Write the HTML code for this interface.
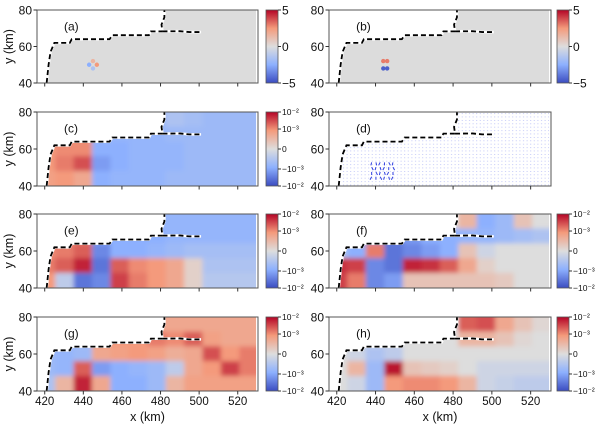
<!DOCTYPE html>
<html><head><meta charset="utf-8"><style>
html,body{margin:0;padding:0;background:#fff}
svg{display:block;font-family:"Liberation Sans",sans-serif}
</style></head><body>
<svg id="fig" width="600" height="426" viewBox="0 0 600 426" xmlns="http://www.w3.org/2000/svg">
<defs>
<linearGradient id="cw" x1="0" y1="1" x2="0" y2="0">
<stop offset="0" stop-color="#3b4cc0"/><stop offset="0.25" stop-color="#8db0fe"/><stop offset="0.5" stop-color="#dddddd"/><stop offset="0.75" stop-color="#f49a7b"/><stop offset="1" stop-color="#b40426"/>
</linearGradient>
<pattern id="dots" width="3.6" height="3.4" patternUnits="userSpaceOnUse"><rect x="1" y="1" width="1" height="0.7" fill="#aab2f4"/></pattern>
<filter id="blur" x="-5%" y="-10%" width="110%" height="120%"><feGaussianBlur stdDeviation="2.5"/></filter>
</defs>
</svg>
<script>
// ---- data ----
const xTicks=[420,440,460,480,500,520];
const yTicks=[40,60,80];
const coast=[[421,40],[422,50],[423,57],[425,62],[433,62],[434,64],[453.6,64],[455,66.2],[474,66.2],[475,68.3],[481,68.3],[480.5,72],[482,76],[482,80]];
const shelf=[[481,68.3],[490,68.4],[495,67.9],[501,67.9]];
const gridCols=12, gridRows=5;
const fieldC=[[-.4,-.4,-.4,-.4,-.4,-.4,-.4,-.3,-.35,-.4,-.4,-.4],[.5,.5,.5,-.4,-.45,-.45,-.45,-.4,-.4,-.4,-.4,-.4],[.5,.55,.55,-.5,-.5,-.45,-.45,-.45,-.4,-.4,-.4,-.4],[.5,.6,.75,-.6,-.5,-.45,-.45,-.45,-.4,-.4,-.4,-.4],[.45,.5,.4,-.5,-.45,-.45,-.45,-.4,-.4,-.4,-.4,-.4]];
const fieldE=[[-.45,-.45,-.45,-.45,-.45,-.45,-.45,-.45,-.45,-.45,-.45,-.45],[.5,.5,.5,-.5,-.5,-.5,-.5,-.45,-.45,-.45,-.45,-.45],[.55,.6,.7,-.7,-.5,-.5,-.45,-.4,-.35,-.35,-.35,-.35],[.6,.7,.9,-.8,.7,.55,.5,.4,.1,-.3,-.3,-.3],[.5,-.2,-.8,-.7,.8,.6,.5,.4,.1,-.25,-.25,-.25]];
const fieldF=[[0,0,0,0,0,0,0,.3,-.5,-.4,.2,0],[-.2,-.3,-.6,-.7,-.6,-.5,-.5,-.45,-.45,-.4,-.35,-.3],[-.3,-.5,.6,-.8,-.7,-.6,-.5,.2,-.1,0,0,0],[.85,.8,-.7,-.8,.9,.85,.7,.4,.1,0,0,0],[.8,.6,-.7,-.6,.2,.2,.2,.2,.2,.15,0,0]];
const fieldG=[[.4,.4,.4,.4,.4,.4,.4,.4,.4,.4,.4,.4],[-.3,-.3,-.3,.5,.5,.5,.6,.55,.7,.45,.4,.4],[-.4,-.45,-.4,.4,.45,.5,.45,.35,.4,.75,.5,.6],[-.4,-.45,.7,-.6,-.5,-.45,-.4,-.2,.4,.5,.8,.6],[-.3,.3,.9,.4,-.5,-.5,-.4,.3,.45,.45,.45,.45]];
const fieldH=[[0,0,0,0,0,0,0,.7,.75,.4,.2,.05],[0,0,0,0,0,0,0,.3,.3,.2,.05,0],[0,-.1,-.3,-.2,0,0,0,0,0,0,0,0],[0,.3,-.4,.95,.2,.15,.1,0,-.1,-.1,-.1,-.1],[0,-.1,-.4,.5,.55,.55,.5,.3,-.1,-.15,-.2,-.2]];
const dotsA=[[443,50,-0.5],[447,50,0.5],[445,52,0.3],[445,48,-0.3]];
const dotsB=[[444,52,0.6],[446,52,0.6],[444,48,-0.9],[446,48,-0.9]];
const cbLin=["5","0","\u22125"];
const cbLog=["10\u207b\u00b2","10\u207b\u00b3","0","\u221210\u207b\u00b3","\u221210\u207b\u00b2"];
const cbLogPos=[0,0.23,0.5,0.77,1];
// ---- layout ----
const NS="http://www.w3.org/2000/svg";
const svg=document.getElementById('fig');
const X0=416,X1=530.5,Y0=40,Y1=80;
const cols=[{l:37,r:258,cb:266},{l:329,r:551,cb:557}];
const rows=[{t:10,b:83},{t:112,b:186},{t:214,b:288},{t:317,b:391}];
function el(tag,attrs,parent){const e=document.createElementNS(NS,tag);for(const k in attrs)e.setAttribute(k,attrs[k]);(parent||svg).appendChild(e);return e;}
const stops=[[0x3b,0x4c,0xc0],[0x8d,0xb0,0xfe],[0xdd,0xdd,0xdd],[0xf4,0x9a,0x7b],[0xb4,0x04,0x26]];
function cw(v){let t=(Math.max(-1,Math.min(1,v))+1)/2*4;let i=Math.min(3,Math.floor(t));let f=t-i;const a=stops[i],b=stops[i+1];return 'rgb('+a.map((c,k)=>Math.round(c+(b[k]-c)*f)).join(',')+')';}
function panel(ci,ri,label,kind,data,cbKind){
  const c=cols[ci],r=rows[ri];
  const sx=k=>c.l+(k-X0)/(X1-X0)*(c.r-c.l);
  const sy=k=>r.b-(k-Y0)/(Y1-Y0)*(r.b-r.t);
  const g=el('g',{});
  
  
  const cid='clip'+label;
  const cp=el('clipPath',{id:cid},g);
  const poly=coast.map(p=>sx(p[0])+','+sy(p[1])).concat([sx(529.5)+','+sy(80),sx(529.5)+','+sy(40)]).join(' ');
  el('polygon',{points:poly},cp);
  const fg=el('g',{'clip-path':'url(#'+cid+')'},g);
  if(kind==='grid'){
    const bg=el('g',{filter:'url(#blur)'},fg);
    const dx=(X1-X0)/gridCols,dy=(Y1-Y0)/gridRows;
    data.forEach((row,i)=>row.forEach((v,j)=>{
      let x=sx(X0+j*dx)-0.3, y=sy(Y1-i*dy)-0.3;
      let w=(sx(X0+dx)-sx(X0))+0.6, h=(sy(Y0)-sy(Y0+dy))+0.6;
      if(j===0){x-=6;w+=6;} if(j===gridCols-1){w+=6;}
      if(i===0){y-=6;h+=6;} if(i===gridRows-1){h+=6;}
      const rc=el('rect',{x:x,y:y,width:w,height:h,fill:cw(v)},bg);
      
      
    }));
  } else if(kind==='gray'){
    el('rect',{x:c.l,y:r.t,width:c.r-c.l,height:r.b-r.t,fill:'#dcdcdc'},fg);
    data.forEach(d=>{const ci2=el('circle',{cx:sx(d[0]),cy:sy(d[1]),r:2.2,fill:cw(d[2])},fg);
      
      });
  } else {
    el('rect',{x:c.l,y:r.t,width:c.r-c.l,height:r.b-r.t,fill:'url(#dots)'},fg);
    for(let i=0;i<24;i++){const px=sx(438+(i%6)*2.2),py=sy(45+Math.floor(i/6)*2.6);
      el('line',{x1:px,y1:py,x2:px+((i*7)%5-2)*0.8,y2:py+3,stroke:'#3040e0','stroke-width':1},fg);}
  }
  const cl=coast.map(p=>sx(p[0])+','+sy(p[1])).join(' ');
  const sl=shelf.map(p=>sx(p[0])+','+sy(p[1])).join(' ');
  [cl,sl].forEach(pts=>{
    el('polyline',{points:pts,fill:'none',stroke:'#fff','stroke-width':2.6},g);
    const d=el('polyline',{points:pts,fill:'none',stroke:'#000','stroke-width':1.8,'stroke-dasharray':'5,3'},g);
    
    
  });
  const fr=el('rect',{x:c.l,y:r.t,width:c.r-c.l,height:r.b-r.t,fill:'none',stroke:'#555','stroke-width':1},g);
  
  
  const lt=el('text',{x:sx(430),y:sy(70)+2,'font-size':12,fill:'#111'},g);lt.textContent='('+label+')';
  
  
  xTicks.forEach(t=>{el('line',{x1:sx(t),x2:sx(t),y1:r.b,y2:r.b+3.5,stroke:'#333'},g);
    if(ri===3){const tx=el('text',{x:sx(t),y:r.b+14,'font-size':11.5,'text-anchor':'middle',fill:'#111'},g);tx.textContent=t;
      
      }});
  yTicks.forEach(t=>{el('line',{x1:c.l-3.5,x2:c.l,y1:sy(t),y2:sy(t),stroke:'#333'},g);
    const ty=el('text',{x:c.l-5,y:sy(t)+4.5,'font-size':12,'text-anchor':'end',fill:'#111'},g);ty.textContent=t;
    
    });
  if(ci===0){const yl=el('text',{x:0,y:0,'font-size':12.5,'text-anchor':'middle',fill:'#111',transform:'translate(13,'+((r.t+r.b)/2)+') rotate(-90)'},g);yl.textContent='y (km)';
    
    }
  if(ri===3){const xl=el('text',{x:(c.l+c.r)/2,y:421,'font-size':12.5,'text-anchor':'middle',fill:'#111'},g);xl.textContent='x (km)';
    
    }
  if(cbKind){
    const cb=el('g',{},g);
    
    
    el('rect',{x:c.cb,y:r.t,width:12,height:r.b-r.t,fill:'url(#cw)',stroke:'#555','stroke-width':0.8},cb);
    const labs=cbKind==='lin'?cbLin:cbLog, pos=cbKind==='lin'?[0,0.5,1]:cbLogPos;
    labs.forEach((s,i)=>{const yy=r.t+pos[i]*(r.b-r.t);
      el('line',{x1:c.cb+12,x2:c.cb+15,y1:yy,y2:yy,stroke:'#333'},cb);
      const t=el('text',{x:c.cb+16,y:yy+(cbKind==='lin'?4.5:3),'font-size':cbKind==='lin'?12:8.5,fill:'#111'},cb);t.textContent=s;
      
      });
  }
}
panel(0,0,'a','gray',dotsA,'lin');
panel(1,0,'b','gray',dotsB,'lin');
panel(0,1,'c','grid',fieldC,'log');
panel(1,1,'d','quiver',null,null);
panel(0,2,'e','grid',fieldE,'log');
panel(1,2,'f','grid',fieldF,'log');
panel(0,3,'g','grid',fieldG,'log');
panel(1,3,'h','grid',fieldH,'log');
</script>
</body></html>
